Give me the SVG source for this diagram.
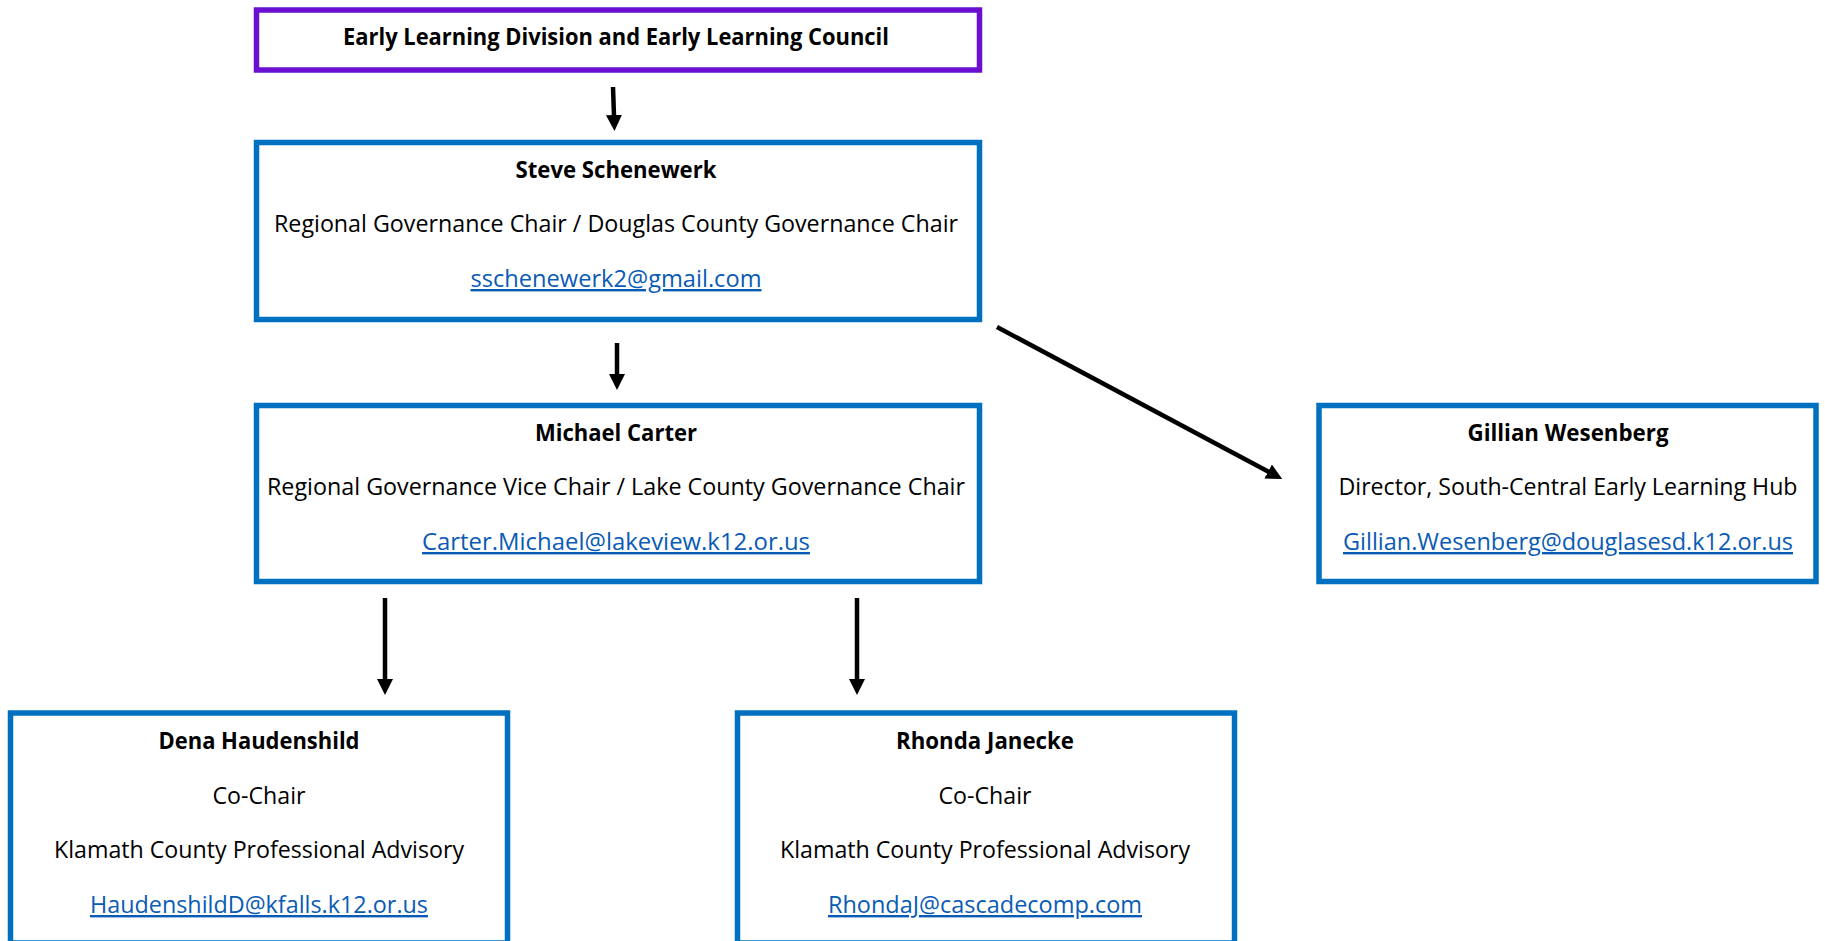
<svg xmlns="http://www.w3.org/2000/svg" width="1825" height="941" viewBox="0 0 1825 941">
<defs>
<style>
.box{fill:#fff;stroke:#0070C0;stroke-width:5.5}
.top{fill:#fff;stroke:#6B0FD1;stroke-width:5.5}
text{font-family:"Open Sans","Noto Sans","Liberation Sans",sans-serif;font-size:24px;text-anchor:middle;fill:#000}
.b{font-weight:bold}
.l{fill:#0A5BB5;text-decoration:underline}
.c{stroke:#000;stroke-width:4.5;fill:none}
</style>
<marker id="ah" markerUnits="userSpaceOnUse" markerWidth="18" markerHeight="18" refX="1" refY="8" orient="auto">
<path d="M0,0 L16,8 L0,16 z" fill="#000"/>
</marker>
</defs>
<rect width="1825" height="941" fill="#fff"/>
<g id="connectors">
<line class="c" x1="613" y1="87" x2="614" y2="116" marker-end="url(#ah)"/>
<line class="c" x1="617" y1="343" x2="617" y2="375" marker-end="url(#ah)"/>
<line class="c" x1="997" y1="327" x2="1269" y2="472" marker-end="url(#ah)"/>
<line class="c" x1="385" y1="598" x2="385" y2="680" marker-end="url(#ah)"/>
<line class="c" x1="857" y1="598" x2="857" y2="680" marker-end="url(#ah)"/>
</g>
<g id="eld">
<rect class="top" x="256.5" y="10" width="723" height="60"/>
<text class="b" x="616" y="45" textLength="546" lengthAdjust="spacingAndGlyphs">Early Learning Division and Early Learning Council</text>
</g>
<g id="steve">
<rect class="box" x="256.5" y="142.5" width="723" height="177"/>
<text class="b" x="616" y="178" textLength="201" lengthAdjust="spacingAndGlyphs">Steve Schenewerk</text>
<text x="616" y="232" textLength="684" lengthAdjust="spacingAndGlyphs">Regional Governance Chair / Douglas County Governance Chair</text>
<text class="l" x="616" y="287" textLength="291" lengthAdjust="spacingAndGlyphs">sschenewerk2@gmail.com</text>
</g>
<g id="michael">
<rect class="box" x="256.5" y="405.5" width="723" height="176"/>
<text class="b" x="616" y="441" textLength="162" lengthAdjust="spacingAndGlyphs">Michael Carter</text>
<text x="616" y="495" textLength="698" lengthAdjust="spacingAndGlyphs">Regional Governance Vice Chair / Lake County Governance Chair</text>
<text class="l" x="616" y="550" textLength="388" lengthAdjust="spacingAndGlyphs">Carter.Michael@lakeview.k12.or.us</text>
</g>
<g id="gillian">
<rect class="box" x="1319" y="405.5" width="497" height="176"/>
<text class="b" x="1568" y="441" textLength="201" lengthAdjust="spacingAndGlyphs">Gillian Wesenberg</text>
<text x="1568" y="495" textLength="459" lengthAdjust="spacingAndGlyphs">Director, South-Central Early Learning Hub</text>
<text class="l" x="1568" y="550" textLength="450" lengthAdjust="spacingAndGlyphs">Gillian.Wesenberg@douglasesd.k12.or.us</text>
</g>
<g id="dena">
<rect class="box" x="10.5" y="713" width="497" height="230"/>
<text class="b" x="259" y="749" textLength="201" lengthAdjust="spacingAndGlyphs">Dena Haudenshild</text>
<text x="259" y="804" textLength="93" lengthAdjust="spacingAndGlyphs">Co-Chair</text>
<text x="259" y="858" textLength="410" lengthAdjust="spacingAndGlyphs">Klamath County Professional Advisory</text>
<text class="l" x="259" y="913" textLength="338" lengthAdjust="spacingAndGlyphs">HaudenshildD@kfalls.k12.or.us</text>
</g>
<g id="rhonda">
<rect class="box" x="737.5" y="713" width="497" height="230"/>
<text class="b" x="985" y="749" textLength="178" lengthAdjust="spacingAndGlyphs">Rhonda Janecke</text>
<text x="985" y="804" textLength="93" lengthAdjust="spacingAndGlyphs">Co-Chair</text>
<text x="985" y="858" textLength="410" lengthAdjust="spacingAndGlyphs">Klamath County Professional Advisory</text>
<text class="l" x="985" y="913" textLength="314" lengthAdjust="spacingAndGlyphs">RhondaJ@cascadecomp.com</text>
</g>
</svg>
